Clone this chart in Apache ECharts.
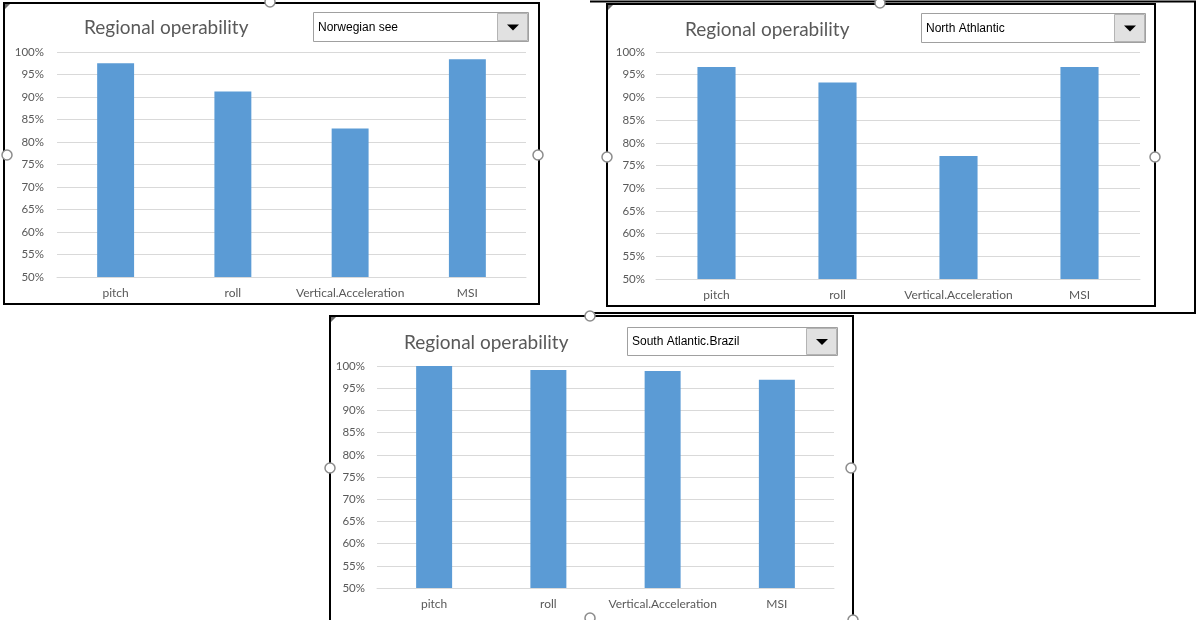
<!DOCTYPE html>
<html>
<head>
<meta charset="utf-8">
<title>Regional operability</title>
<script src="https://cdn.jsdelivr.net/npm/echarts@6/dist/echarts.min.js"></script>
<style>
  html, body { margin: 0; padding: 0; background: #ffffff; }
  #chart { width: 1197px; height: 620px; }
</style>
</head>
<body>
<div id="chart"></div>
<script>
// Operability criteria shown on each panel
const categories = ['pitch', 'roll', 'Vertical.Acceleration', 'MSI'];

// Sea regions, one panel each (the value picked in the drop-down)
const regions = ['Norwegian see', 'North Athlantic', 'South Atlantic.Brazil'];

// Operability per criterion, in percent
const norwegianSee = [97.5, 91.2, 83.0, 98.4];
const northAthlantic = [96.7, 93.3, 77.1, 96.7];
const southAtlanticBrazil = [100, 99.1, 98.9, 96.9];

// Value axis range and step, in percent
const yMin = 50;
const yMax = 100;
const yStep = 5;

const chartTitle = 'Regional operability';

// Panel layout: frame, plot area, title and drop-down placement
const panels = [
  { values: norwegianSee, region: regions[0],
    frame: [4, 3, 535, 301],
    grid: { left: 57, top: 52, width: 469, height: 225 },
    title: [84, 18], labelMargin: 13,
    drop: [313, 12, 215, 29],
    handles: [[7, 155], [538, 155], [270, 2]] },
  { values: northAthlantic, region: regions[1],
    frame: [607, 4, 548, 302],
    grid: { left: 656, top: 52, width: 484, height: 227 },
    title: [685, 20], labelMargin: 11,
    drop: [921, 13, 224, 29],
    handles: [[607, 157], [1155, 157], [880, 3]] },
  { values: southAtlanticBrazil, region: regions[2],
    frame: [330, 316, 523, 310],
    grid: { left: 377, top: 366, width: 457, height: 222 },
    title: [404, 333], labelMargin: 12,
    drop: [627, 327, 210, 28],
    handles: [[330, 468], [851, 468], [590, 618], [590, 316], [853, 620]] }
];

const axisFont = 'Lato, "Open Sans", "Liberation Sans", sans-serif';
const textGrey = '#595959';
const gridGrey = '#d9d9d9';
const barBlue = '#5b9bd5';

const grids = [], xAxes = [], yAxes = [], series = [], titles = [], graphics = [];

// Outer frame around the upper-right panel
graphics.push({ type: 'polyline', silent: true, z: 1,
  shape: { points: [[590, 1.5], [1195, 1.5], [1195, 313], [590, 313]] },
  style: { stroke: '#000', lineWidth: 2, fill: null } });

panels.forEach(function (p, i) {
  grids.push(Object.assign({ containLabel: false }, p.grid));

  xAxes.push({
    type: 'category', gridIndex: i, data: categories,
    axisTick: { show: false },
    axisLine: { show: true, lineStyle: { color: gridGrey, width: 1 } },
    axisLabel: { color: textGrey, fontSize: 12, fontFamily: axisFont,
      margin: 10, interval: 0, hideOverlap: false }
  });

  yAxes.push({
    type: 'value', gridIndex: i, min: yMin, max: yMax, interval: yStep,
    axisLine: { show: false }, axisTick: { show: false },
    splitLine: { lineStyle: { color: gridGrey, width: 1 } },
    axisLabel: { color: textGrey, fontSize: 11.5, fontFamily: axisFont,
      margin: p.labelMargin, formatter: function (v) { return v + '%'; } }
  });

  series.push({
    type: 'bar', xAxisIndex: i, yAxisIndex: i, data: p.values,
    barWidth: '31.5%',
    itemStyle: { color: barBlue },
    silent: true
  });

  titles.push({
    text: chartTitle, left: p.title[0], top: p.title[1], padding: 0,
    textStyle: { color: textGrey, fontSize: 19, fontWeight: 'normal', fontFamily: axisFont }
  });

  // Panel frame
  const f = p.frame;
  graphics.push({ type: 'rect', silent: true, z: 1,
    shape: { x: f[0], y: f[1], width: f[2], height: f[3] },
    style: { stroke: '#000', lineWidth: 2, fill: null } });

  // Small corner mark at top-left of the frame
  graphics.push({ type: 'polygon', silent: true, z: 2,
    shape: { points: [[f[0] + 1, f[1] + 1], [f[0] + 6, f[1] + 1], [f[0] + 1, f[1] + 6]] },
    style: { fill: '#6b6b6b' } });

  // Region drop-down
  const d = p.drop;
  const btnW = 31;
  graphics.push({ type: 'rect', silent: true, z: 3,
    shape: { x: d[0] + 0.5, y: d[1] + 0.5, width: d[2], height: d[3] },
    style: { stroke: '#a0a0a0', lineWidth: 1, fill: '#ffffff' } });
  graphics.push({ type: 'rect', silent: true, z: 4,
    shape: { x: d[0] + d[2] - btnW + 0.5, y: d[1] + 1.5, width: btnW - 1, height: d[3] - 2 },
    style: { stroke: '#b4b4b4', lineWidth: 1, fill: '#e1e1e1' } });
  const cx = d[0] + d[2] - btnW / 2 + 0.5, cy = d[1] + d[3] / 2 + 1;
  graphics.push({ type: 'polygon', silent: true, z: 5,
    shape: { points: [[cx - 6, cy - 3], [cx + 6, cy - 3], [cx, cy + 3]] },
    style: { fill: '#000' } });
  graphics.push({ type: 'text', silent: true, z: 5,
    x: d[0] + 5, y: d[1] + d[3] / 2 + 1,
    style: { text: p.region, fill: '#000', fontSize: 12,
      fontFamily: '"Liberation Sans", Arial, sans-serif',
      verticalAlign: 'middle', align: 'left' } });

  // Selection handles on the frame edges
  p.handles.forEach(function (h) {
    graphics.push({ type: 'circle', silent: true, z: 6,
      shape: { cx: h[0], cy: h[1], r: 5 },
      style: { stroke: '#8c8c8c', lineWidth: 1.5, fill: '#ffffff' } });
  });
});

const chart = echarts.init(document.getElementById('chart'), null, { renderer: 'canvas' });
chart.setOption({
  animation: false,
  backgroundColor: '#ffffff',
  title: titles,
  grid: grids,
  xAxis: xAxes,
  yAxis: yAxes,
  series: series,
  graphic: { elements: graphics }
});
</script>
</body>
</html>
